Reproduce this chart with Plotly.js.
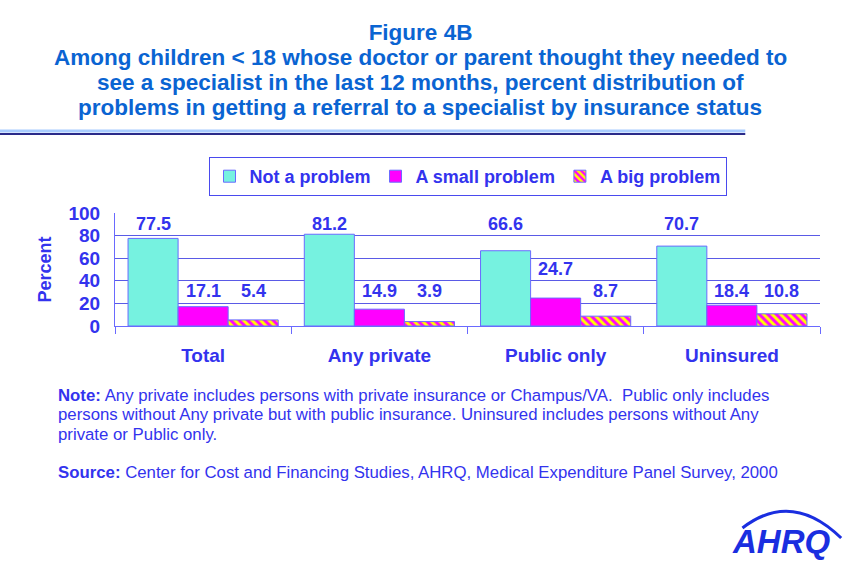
<!DOCTYPE html>
<html>
<head>
<meta charset="utf-8">
<script src="https://cdn.plot.ly/plotly-3.0.1.min.js"></script>
<style>
  body { margin: 0; background: #fff; }
  #chart { width: 853px; height: 569px; }
</style>
</head>
<body>
<div id="chart"></div>
<script>
// chart data
const categories = ["Total", "Any private", "Public only", "Uninsured"];
const seriesNames = ["Not a problem", "A small problem", "A big problem"];
const notProblem = [77.5, 81.2, 66.6, 70.7];
const smallProblem = [17.1, 14.9, 24.7, 18.4];
const bigProblem = [5.4, 3.9, 8.7, 10.8];
const yTicks = [0, 20, 40, 60, 80, 100];

const titleLines = [
    "Among children < 18 whose doctor or parent thought they needed to",
    "see a specialist in the last 12 months, percent distribution of",
    "problems in getting a referral to a specialist by insurance status"
];
const noteLines = [
    "<b>Note:</b> Any private includes persons with private insurance or Champus/VA.  Public only includes",
    "persons without Any private but with public insurance. Uninsured includes persons without Any",
    "private or Public only."
];
const sourceLine = "<b>Source:</b> Center for Cost and Financing Studies, AHRQ, Medical Expenditure Panel Survey, 2000";

const blue = "#3333ee";
const titleBlue = "#0a64d2";
const fontFam = "Arial, 'Liberation Sans', sans-serif";

const allSeries = [notProblem, smallProblem, bigProblem];

const traces = [
    {
        x: categories, y: notProblem, type: "bar", name: seriesNames[0],
        marker: { color: "#76f2e0", line: { color: "#6a6aff", width: 1 } }
    },
    {
        x: categories, y: smallProblem, type: "bar", name: seriesNames[1],
        marker: { color: "#ff00ff", line: { color: "#6a6aff", width: 1 } }
    },
    {
        x: categories, y: bigProblem, type: "bar", name: seriesNames[2],
        marker: {
            color: "#ffff00",
            line: { color: "#6a6aff", width: 1 },
            pattern: { shape: "\\", fgcolor: "#ff00ff", bgcolor: "#ffff00", size: 6, solidity: 0.5, fillmode: "replace" }
        }
    }
];

// value labels, sitting on the gridline just above each bar (as in the original)
const annotations = [];
const shifts = [-50, 0, 50];
allSeries.forEach(function(vals, s) {
    vals.forEach(function(v, i) {
        let level = Math.min(80, Math.max(20, Math.ceil(v / 20) * 20));
        annotations.push({
            x: categories[i], y: level, xref: "x", yref: "y",
            xshift: shifts[s], yanchor: "bottom", yshift: 0,
            text: v.toFixed(1), showarrow: false,
            font: { family: fontFam, size: 18, color: blue, weight: "bold" }
        });
    });
});

// helper: paper y from a pixel row (plot area is rows 213..326)
function py(px) { return (326 - px) / 113; }

// title body lines (the "Figure 4B" line is layout.title)
titleLines.forEach(function(t, i) {
    annotations.push({
        xref: "paper", yref: "paper", x: 0.433, y: py(57 + i * 25), xanchor: "center", yanchor: "middle",
        showarrow: false, text: t,
        font: { family: fontFam, size: 22.5, color: titleBlue, weight: "bold" }
    });
});

// notes under the chart
noteLines.forEach(function(t, i) {
    annotations.push({
        xref: "paper", yref: "paper", x: -0.083, y: py(395 + i * 19.5), xanchor: "left", yanchor: "middle",
        align: "left", showarrow: false, text: t,
        font: { family: fontFam, size: 16.8, color: blue }
    });
});
annotations.push({
    xref: "paper", yref: "paper", x: -0.083, y: py(472), xanchor: "left", yanchor: "middle",
    align: "left", showarrow: false, text: sourceLine,
    font: { family: fontFam, size: 16.8, color: blue }
});
// AHRQ logo
annotations.push({
    xref: "paper", yref: "paper", x: 0.945, y: py(541), xanchor: "center", yanchor: "middle",
    showarrow: false, text: "<b><i>AHRQ</i></b>",
    font: { family: fontFam, size: 33, color: "#1a2ee0" }
});

const shapes = [
    // double rule below the title
    { type: "line", xref: "paper", yref: "paper", x0: -0.165, x1: 0.894, y0: py(131), y1: py(131),
      line: { color: "#a8ccff", width: 3 } },
    { type: "line", xref: "paper", yref: "paper", x0: -0.165, x1: 0.894, y0: py(134), y1: py(134),
      line: { color: "#2a2a8a", width: 2 } },
    // logo arc
    { type: "path", xref: "paper", yref: "paper",
      path: "M 0.89," + py(528) + " Q 0.96," + py(490) + " 1.03," + py(538),
      line: { color: "#1a2ee0", width: 3 } }
];

const layout = {
    width: 853, height: 569,
    margin: { l: 115, r: 33, t: 213, b: 243 },
    paper_bgcolor: "#fff", plot_bgcolor: "#fff",
    title: {
        text: "Figure 4B",
        font: { family: fontFam, size: 22.5, color: titleBlue, weight: "bold" },
        x: 0.493, xanchor: "center", y: 1 - 32 / 569, yanchor: "middle"
    },
    barmode: "group", bargap: 0.148, bargroupgap: 0,
    showlegend: true,
    legend: {
        orientation: "h", x: 0.5, xanchor: "center", y: py(157), yanchor: "top",
        bordercolor: "#4a4aee", borderwidth: 1, bgcolor: "#fff",
        font: { family: fontFam, size: 18, color: blue, weight: "bold" },
        itemwidth: 30, traceorder: "normal", tracegroupgap: 0
    },
    xaxis: {
        type: "category",
        showline: true, linecolor: "#6a6aff", linewidth: 1,
        ticks: "outside", tickson: "boundaries", ticklen: 7, tickcolor: "#6a6aff",
        ticklabelstandoff: 12,
        tickfont: { family: fontFam, size: 19, color: blue, weight: "bold" },
        showgrid: false
    },
    yaxis: {
        range: [0, 100], tickvals: yTicks, ticktext: yTicks.map(String),
        showline: true, linecolor: "#6a6aff", linewidth: 1,
        showgrid: true, gridcolor: "#5a5ae6", gridwidth: 1,
        zeroline: false, ticks: "", ticklabelstandoff: 10,
        tickfont: { family: fontFam, size: 19, color: blue, weight: "bold" },
        title: { text: "Percent", font: { family: fontFam, size: 18, color: blue, weight: "bold" }, standoff: 12 }
    },
    annotations: annotations,
    shapes: shapes
};

Plotly.newPlot("chart", traces, layout, { displayModeBar: false, staticPlot: true });
</script>
</body>
</html>
